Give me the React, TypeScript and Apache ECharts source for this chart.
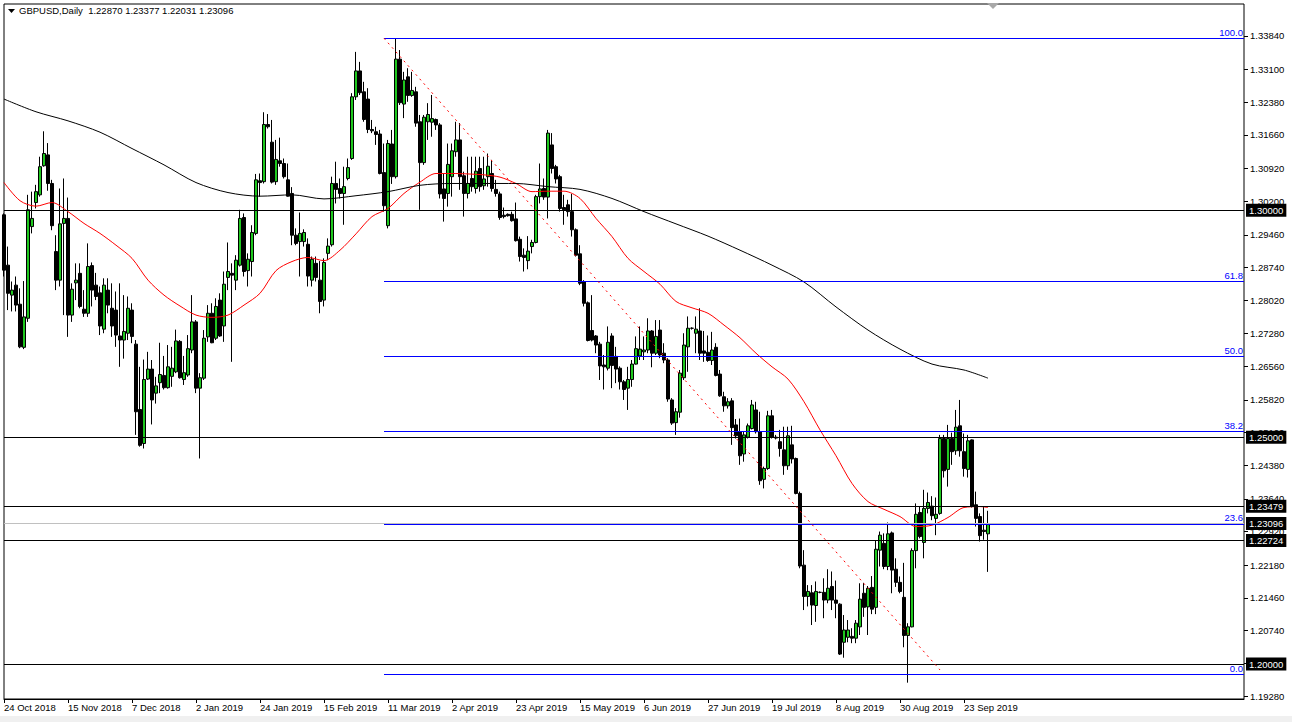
import React, { useEffect, useRef } from "react";
import * as echarts from "echarts";

// ---- tick labels ----
const dateLabels = [
  "24 Oct 2018", "15 Nov 2018", "7 Dec 2018", "2 Jan 2019", "24 Jan 2019", "15 Feb 2019",
  "11 Mar 2019", "2 Apr 2019", "23 Apr 2019", "15 May 2019", "6 Jun 2019", "27 Jun 2019",
  "19 Jul 2019", "8 Aug 2019", "30 Aug 2019", "23 Sep 2019",
];
const barsPerLabel = 16;
const totalSlots = 311;

const priceTicks = [
  1.3384, 1.331, 1.3238, 1.3166, 1.3092, 1.302, 1.2946, 1.2874, 1.2802, 1.2728, 1.2656,
  1.2582, 1.251, 1.2438, 1.2364, 1.2292, 1.2218, 1.2146, 1.2074, 1.2002, 1.1928,
];

// ---- daily OHLC ----
const opens = [
  1.2990,1.2879,1.2813,1.2835,1.2793,1.2698,1.2762,1.2964,1.3017,1.3034,
  1.3098,1.3122,1.3059,1.2909,1.2846,1.2971,1.2982,1.2769,1.2840,1.2861,
  1.2782,1.2773,1.2878,1.2835,1.2818,1.2738,1.2824,1.2784,1.2780,1.2723,
  1.2714,1.2729,1.2780,1.2705,1.2561,1.2486,1.2628,1.2650,1.2597,1.2620,
  1.2636,1.2609,1.2634,1.2644,1.2711,1.2627,1.2637,1.2692,1.2754,1.2608,
  1.2630,1.2721,1.2773,1.2718,1.2802,1.2745,1.2852,1.2861,1.2846,1.2879,
  1.2984,1.2867,1.2887,1.2949,1.3065,1.3063,1.3189,1.3150,1.3063,1.3109,
  1.3103,1.3067,1.3037,1.2945,1.2931,1.2931,1.2925,1.2846,1.2883,1.2846,
  1.2802,1.2905,1.2924,1.3059,1.3048,1.3037,1.3070,1.3114,1.3250,1.3307,
  1.3261,1.3245,1.3178,1.3173,1.3168,1.3083,1.2966,1.3146,1.3074,1.3333,
  1.3234,1.3294,1.3253,1.3261,1.3195,1.3105,1.3195,1.3194,1.3200,1.3188,
  1.3047,1.3037,1.3074,1.3129,1.3155,1.3076,1.3037,1.3070,1.3048,1.3092,
  1.3054,1.3074,1.3081,1.3046,1.3036,1.2989,1.2991,1.2991,1.2981,1.2936,
  1.2901,1.2889,1.2920,1.2929,1.3030,1.3048,1.3029,1.3144,1.3096,1.3074,
  1.3006,1.3012,1.2997,1.2957,1.2904,1.2843,1.2796,1.2735,1.2723,1.2705,
  1.2659,1.2652,1.2723,1.2678,1.2652,1.2622,1.2608,1.2627,1.2661,1.2679,
  1.2688,1.2692,1.2734,1.2685,1.2736,1.2685,1.2670,1.2582,1.2532,1.2555,
  1.2631,1.2699,1.2740,1.2729,1.2734,1.2690,1.2687,1.2669,1.2698,1.2639,
  1.2589,1.2569,1.2580,1.2527,1.2512,1.2463,1.2500,1.2519,1.2560,1.2512,
  1.2407,1.2431,1.2547,1.2500,1.2490,1.2472,1.2437,1.2483,1.2453,1.2376,
  1.2218,1.2149,1.2157,1.2129,1.2158,1.2158,1.2141,1.2171,1.2141,1.2132,
  1.2048,1.2059,1.2061,1.2057,1.2082,1.2156,1.2126,1.2169,1.2125,1.2251,
  1.2266,1.2215,1.2289,1.2209,1.2180,1.2147,1.2063,1.2082,1.2250,1.2334,
  1.2268,1.2343,1.2348,1.2321,1.2332,1.2497,1.2429,1.2497,1.2470,1.2525,
  1.2468,1.2429,1.2494,1.2351,1.2325,1.2295,1.22870,
];
const highs = [
  1.2993,1.2920,1.2843,1.2854,1.2828,1.2844,1.3034,1.3041,1.3056,1.3118,
  1.3174,1.3148,1.3067,1.2945,1.3048,1.3070,1.3028,1.2839,1.2883,1.2883,
  1.2824,1.2927,1.2885,1.2862,1.2832,1.2850,1.2850,1.2839,1.2821,1.2839,
  1.2813,1.2810,1.2795,1.2714,1.2655,1.2671,1.2688,1.2670,1.2633,1.2708,
  1.2679,1.2703,1.2699,1.2737,1.2714,1.2679,1.2725,1.2813,1.2758,1.2641,
  1.2736,1.2791,1.2795,1.2806,1.2817,1.2865,1.2929,1.2883,1.2901,1.3001,
  1.2993,1.2905,1.2967,1.3080,1.3081,1.3216,1.3212,1.3199,1.3155,1.3160,
  1.3114,1.3103,1.3051,1.2960,1.2995,1.2958,1.2938,1.2898,1.2898,1.2888,
  1.2894,1.2938,1.3074,1.3107,1.3070,1.3096,1.3114,1.3258,1.3349,1.3327,
  1.3283,1.3269,1.3199,1.3184,1.3177,1.3147,1.3155,1.3177,1.3379,1.3353,
  1.3305,1.3313,1.3305,1.3272,1.3210,1.3210,1.3236,1.3254,1.3202,1.3192,
  1.3081,1.3147,1.3147,1.3195,1.3192,1.3085,1.3118,1.3118,1.3118,1.3118,
  1.3118,1.3125,1.3111,1.3067,1.3041,1.3006,1.2993,1.2997,1.3017,1.2942,
  1.2916,1.2943,1.2935,1.3034,1.3103,1.3070,1.3177,1.3170,1.3100,1.3078,
  1.3034,1.3023,1.3036,1.2960,1.2923,1.2846,1.2799,1.2813,1.2725,1.2710,
  1.2681,1.2744,1.2729,1.2699,1.2656,1.2626,1.2655,1.2670,1.2722,1.2744,
  1.2722,1.2762,1.2736,1.2758,1.2758,1.2707,1.2674,1.2586,1.2564,1.2648,
  1.2729,1.2766,1.2742,1.2766,1.2784,1.2734,1.2724,1.2732,1.2707,1.2648,
  1.2600,1.2586,1.2586,1.2540,1.2541,1.2512,1.2530,1.2582,1.2578,1.2556,
  1.2435,1.2558,1.2560,1.2505,1.2516,1.2523,1.2523,1.2525,1.2455,1.2380,
  1.2251,1.2174,1.2174,1.2182,1.2160,1.2189,1.2209,1.2204,1.2184,1.2134,
  1.2108,1.2097,1.2079,1.2097,1.2178,1.2179,1.2172,1.2194,1.2273,1.2292,
  1.2288,1.2312,1.2292,1.2233,1.2193,1.2223,1.2090,1.2255,1.2354,1.2347,
  1.2384,1.2378,1.2370,1.2367,1.2505,1.2505,1.2527,1.2510,1.2560,1.2582,
  1.2508,1.2505,1.2495,1.2380,1.2332,1.2347,1.23377,
];
const lows = [
  1.2854,1.2780,1.2777,1.2777,1.2696,1.2694,1.2754,1.2949,1.3004,1.3030,
  1.3096,1.3043,1.2956,1.2824,1.2832,1.2769,1.2721,1.2754,1.2802,1.2784,
  1.2765,1.2765,1.2788,1.2802,1.2725,1.2729,1.2773,1.2721,1.2699,1.2655,
  1.2673,1.2714,1.2707,1.2505,1.2479,1.2475,1.2626,1.2528,1.2574,1.2597,
  1.2605,1.2607,1.2611,1.2641,1.2629,1.2615,1.2633,1.2685,1.2597,1.2453,
  1.2626,1.2710,1.2707,1.2714,1.2721,1.2710,1.2824,1.2666,1.2824,1.2876,
  1.2854,1.2832,1.2854,1.2945,1.3030,1.3059,1.3180,1.3059,1.3056,1.3096,
  1.3070,1.3030,1.2923,1.2923,1.2854,1.2920,1.2832,1.2832,1.2843,1.2773,
  1.2788,1.2890,1.2920,1.3015,1.3026,1.2968,1.3066,1.3111,1.3243,1.3254,
  1.3195,1.3170,1.3170,1.3144,1.3079,1.2997,1.2960,1.3058,1.3070,1.3232,
  1.3203,1.3239,1.3250,1.3184,1.3001,1.3100,1.3155,1.3162,1.3177,1.3026,
  1.2975,1.3008,1.3030,1.3118,1.3045,1.2986,1.3026,1.3041,1.3037,1.3041,
  1.3045,1.3052,1.3041,1.3030,1.2979,1.2982,1.2986,1.2975,1.2931,1.2887,
  1.2865,1.2870,1.2905,1.2927,1.3015,1.3023,1.2982,1.3081,1.3059,1.2997,
  1.2968,1.2986,1.2942,1.2898,1.2835,1.2788,1.2711,1.2711,1.2685,1.2626,
  1.2605,1.2647,1.2608,1.2619,1.2605,1.2582,1.2560,1.2611,1.2660,1.2670,
  1.2670,1.2685,1.2654,1.2681,1.2674,1.2663,1.2578,1.2527,1.2505,1.2543,
  1.2626,1.2644,1.2737,1.2685,1.2670,1.2666,1.2666,1.2659,1.2634,1.2589,
  1.2556,1.2563,1.2483,1.2497,1.2439,1.2446,1.2497,1.2517,1.2508,1.2395,
  1.2387,1.2428,1.2497,1.2495,1.2457,1.2417,1.2428,1.2442,1.2374,1.2211,
  1.2119,1.2127,1.2086,1.2093,1.2156,1.2101,1.2134,1.2119,1.2101,1.2020,
  1.2014,1.2048,1.2046,1.2046,1.2064,1.2104,1.2064,1.2110,1.2110,1.2215,
  1.2209,1.2207,1.2156,1.2170,1.2156,1.2037,1.1959,1.2081,1.2211,1.2277,
  1.2233,1.2332,1.2317,1.2284,1.2329,1.2411,1.2391,1.2439,1.2461,1.2457,
  1.2413,1.2411,1.2345,1.2303,1.2270,1.2274,1.22031,
];
const closes = [
  1.2868,1.2817,1.2824,1.2791,1.2699,1.2765,1.3001,1.2982,1.3041,1.3096,
  1.3125,1.3059,1.2966,1.2846,1.2970,1.2982,1.2769,1.2826,1.2846,1.2788,
  1.2773,1.2876,1.2824,1.2810,1.2745,1.2835,1.2791,1.2745,1.2725,1.2714,
  1.2733,1.2784,1.2722,1.2556,1.2482,1.2627,1.2650,1.2582,1.2613,1.2638,
  1.2609,1.2655,1.2652,1.2712,1.2631,1.2642,1.2695,1.2754,1.2608,1.2631,
  1.2718,1.2773,1.2708,1.2788,1.2723,1.2837,1.2865,1.2857,1.2890,1.2982,
  1.2865,1.2892,1.2951,1.3067,1.3061,1.3189,1.3184,1.3062,1.3112,1.3103,
  1.3074,1.3031,1.2945,1.2927,1.2949,1.2951,1.2855,1.2892,1.2852,1.2799,
  1.2885,1.2921,1.3059,1.3046,1.3037,1.3052,1.3094,1.3250,1.3307,1.3259,
  1.3200,1.3178,1.3175,1.3167,1.3081,1.3010,1.3147,1.3074,1.3333,1.3237,
  1.3287,1.3253,1.3264,1.3192,1.3105,1.3205,1.3211,1.3202,1.3188,1.3036,
  1.3026,1.3101,1.3131,1.3155,1.3074,1.3037,1.3059,1.3052,1.3086,1.3052,
  1.3069,1.3097,1.3048,1.3037,1.2984,1.2986,1.2988,1.2977,1.2933,1.2898,
  1.2896,1.2910,1.2929,1.3030,1.3047,1.3029,1.3170,1.3092,1.3069,1.3004,
  1.3001,1.2997,1.2957,1.2901,1.2839,1.2795,1.2713,1.2714,1.2703,1.2657,
  1.2655,1.2709,1.2658,1.2650,1.2622,1.2605,1.2627,1.2661,1.2695,1.2694,
  1.2692,1.2734,1.2685,1.2722,1.2681,1.2670,1.2584,1.2531,1.2556,1.2641,
  1.2703,1.2740,1.2740,1.2738,1.2685,1.2685,1.2669,1.2692,1.2636,1.2591,
  1.2569,1.2578,1.2521,1.2503,1.2459,1.2505,1.2525,1.2571,1.2512,1.2404,
  1.2431,1.2547,1.2500,1.2498,1.2475,1.2437,1.2503,1.2452,1.2376,1.2216,
  1.2149,1.2160,1.2130,1.2160,1.2158,1.2141,1.2167,1.2141,1.2134,1.2022,
  1.2075,1.2075,1.2057,1.2090,1.2143,1.2125,1.2167,1.2121,1.2253,1.2284,
  1.2215,1.2287,1.2207,1.2180,1.2160,1.2063,1.2082,1.2250,1.2330,1.2281,
  1.2343,1.2356,1.2327,1.2330,1.2497,1.2426,1.2497,1.2468,1.2522,1.2470,
  1.2431,1.2492,1.2347,1.2321,1.2283,1.2292,1.23096,
];

// ---- moving averages (bar index, value) ----
const redMa = [
  [0,1.3061],[4,1.3021],[8,1.3009],[12,1.3017],[16,1.2997],[20,1.2971],[24,1.2949],[28,1.2923],
  [32,1.2894],[36,1.2846],[40,1.2813],[44,1.2789],[48,1.2769],[52,1.2764],[56,1.2769],[60,1.2791],
  [64,1.2817],[68,1.2867],[72,1.2887],[76,1.2896],[80,1.2889],[84,1.2912],[88,1.2948],[92,1.2986],
  [96,1.3004],[100,1.3037],[104,1.3062],[108,1.3081],[112,1.3081],[116,1.3080],[120,1.3078],[124,1.3073],
  [128,1.3059],[132,1.3041],[136,1.3042],[140,1.3042],[144,1.3026],[148,1.2982],[152,1.2942],[156,1.2894],
  [160,1.2865],[164,1.2837],[168,1.2799],[172,1.2785],[176,1.2773],[180,1.2747],[184,1.2719],[188,1.2685],
  [192,1.2655],[196,1.2628],[200,1.2578],[204,1.2516],[208,1.2459],[212,1.2398],[216,1.2358],[220,1.2341],
  [224,1.2325],[228,1.2303],[232,1.2306],[236,1.2323],[240,1.2345],[244,1.2347],[246,1.2345],
];
const blackMa = [
  [0,1.3245],[8,1.3217],[16,1.3197],[24,1.3172],[32,1.3136],[40,1.3100],[48,1.3061],[56,1.3039],
  [64,1.3031],[72,1.3034],[80,1.3025],[88,1.3032],[96,1.3041],[104,1.3055],[112,1.3059],[120,1.3059],
  [128,1.3059],[136,1.3052],[144,1.3046],[152,1.3026],[160,1.2997],[168,1.2970],[176,1.2943],[184,1.2912],
  [192,1.2879],[200,1.2842],[208,1.2787],[216,1.2736],[224,1.2694],[232,1.2661],[240,1.2648],[246,1.2630],
];

// ---- drawn objects ----
const levelLines = [1.3, 1.25, 1.23479, 1.22724, 1.2];
const currentPrice = 1.23096;
const fibHigh = 1.3379;
const fibLow = 1.1978;
const fibRatios = [100, 61.8, 50, 38.2, 23.6, 0];
const fibStartBar = 95;
const trendStart = [95, 1.3379];
const trendEnd = [234, 1.1987];
const header = "GBPUSD,Daily  1.22870 1.23377 1.22031 1.23096";

const FONT = "'Liberation Sans', Arial, sans-serif";
const FS = 9.5;

export default function App() {
  const ref = useRef<HTMLDivElement>(null);
  useEffect(() => {
    if (!ref.current) return;
    const chart = echarts.init(ref.current, undefined, { renderer: "svg" });
    const slots = Array.from({ length: totalSlots }, (_, i) => String(i));
    const candles = opens.map((o, i) => [o, closes[i], lows[i], highs[i]]);
    const lastLabelBar = (dateLabels.length - 1) * barsPerLabel;
    const showTick = (i: number) => i % barsPerLabel === 0 && i <= lastLabelBar;
    const boxLabel = (v: number) => ({
      show: true,
      position: "end",
      distance: 2,
      formatter: v.toFixed(5),
      backgroundColor: "#000",
      color: "#fff",
      padding: [2, 3, 1, 3],
      fontFamily: FONT,
      fontSize: FS,
    });
    const markData: any[] = [];
    levelLines.forEach((v) => {
      markData.push({ yAxis: v, lineStyle: { color: "#000", width: 1, type: "solid" }, label: boxLabel(v) });
    });
    markData.push({ yAxis: currentPrice, lineStyle: { color: "#C0C0C0", width: 1, type: "solid" }, label: boxLabel(currentPrice) });
    fibRatios.forEach((r) => {
      const v = fibLow + ((fibHigh - fibLow) * r) / 100;
      markData.push([
        {
          coord: [fibStartBar, v],
          lineStyle: { color: "#0000FF", width: 1, type: "solid" },
          label: {
            show: true,
            position: "insideEndTop",
            distance: 1,
            formatter: r.toFixed(1),
            color: "#0000FF",
            fontFamily: FONT,
            fontSize: FS,
            padding: 0,
          },
        },
        { coord: [totalSlots - 1, v] },
      ]);
    });
    markData.push([
      { coord: trendStart, lineStyle: { color: "#FF0000", width: 1, type: [2, 4] }, label: { show: false } },
      { coord: trendEnd },
    ]);

    chart.setOption({
      animation: false,
      backgroundColor: "#fff",
      title: {
        text: header,
        left: 19,
        top: 5,
        padding: 0,
        textStyle: { fontFamily: FONT, fontSize: FS, fontWeight: "normal", color: "#000" },
      },
      grid: { left: 4, right: 48, top: 4, bottom: 23, show: true, borderColor: "#000", borderWidth: 1, backgroundColor: "#fff" },
      xAxis: {
        type: "category",
        data: slots,
        boundaryGap: false,
        axisLine: { show: true, lineStyle: { color: "#000" } },
        axisTick: { show: true, interval: (i: number) => showTick(i), length: 4, lineStyle: { color: "#000" } },
        axisLabel: {
          interval: (i: number) => showTick(i),
          formatter: (_v: string, i: number) => (showTick(i) ? dateLabels[i / barsPerLabel] : ""),
          align: "left",
          margin: 3,
          color: "#000",
          fontFamily: FONT,
          fontSize: FS,
        },
        splitLine: { show: false },
      },
      yAxis: {
        type: "value",
        position: "right",
        min: 1.1923,
        max: 1.34545,
        splitLine: { show: false },
        axisLine: { show: false },
        axisTick: { show: true, length: 4, customValues: priceTicks, lineStyle: { color: "#000" } },
        axisLabel: {
          customValues: priceTicks,
          formatter: (v: number) => v.toFixed(5),
          margin: 6,
          color: "#000",
          fontFamily: FONT,
          fontSize: FS,
        },
      },
      graphic: [
        { type: "polygon", shape: { points: [[8, 9], [15, 9], [11.5, 13]] }, style: { fill: "#000" } },
        { type: "polygon", shape: { points: [[987, 3], [999, 3], [993, 9]] }, style: { fill: "#A8A8A8" } },
        { type: "rect", shape: { x: 0, y: 716, width: 1292, height: 6 }, style: { fill: "#F0F0F0" } },
      ],
      series: [
        {
          type: "candlestick",
          data: candles,
          barWidth: 3,
          clip: true,
          z: 2,
          itemStyle: { color: "#1FC81F", color0: "#000", borderColor: "#000", borderColor0: "#000", borderWidth: 1 },
        },
        {
          type: "line",
          data: redMa,
          symbol: "none",
          smooth: 0.3,
          z: 3,
          lineStyle: { color: "#FF0000", width: 1 },
        },
        {
          type: "line",
          data: blackMa,
          symbol: "none",
          smooth: 0.3,
          z: 3,
          lineStyle: { color: "#000", width: 1 },
        },
        {
          type: "line",
          data: [],
          z: 5,
          markLine: { silent: true, symbol: ["none", "none"], animation: false, precision: 5, data: markData },
        },
      ],
    });
    return () => chart.dispose();
  }, []);
  return (
    <div
      ref={ref}
      style={{ position: "fixed", left: 0, top: 0, width: 1292, height: 722, background: "#fff" }}
    />
  );
}
